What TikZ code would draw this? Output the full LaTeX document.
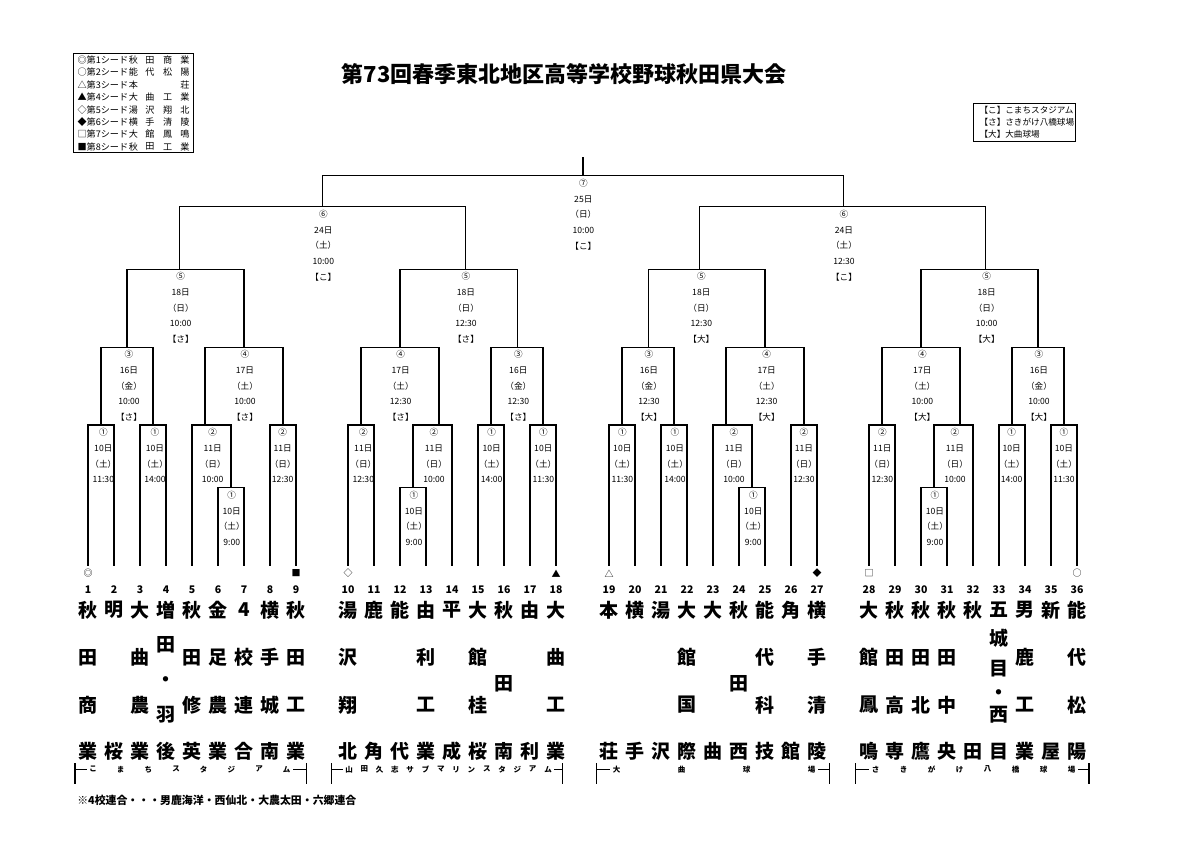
\documentclass[tikz,border=0pt]{standalone}
\usepackage{fontspec}
\newfontfamily\jp{Noto Sans CJK JP}
\newcommand\TmFour[6]{%
  \node[tm] (c#1a) at (#2,610) {#3};
  \node[tm] (c#1b) at (#2,657.7) {#4};
  \node[tm] (c#1c) at (#2,705) {#5};
  \node[tm] (c#1d) at (#2,751.7) {#6};}
\newcommand\TmTwo[4]{%
  \node[tm] (c#1a) at (#2,610) {#3};
  \node[tm] (c#1d) at (#2,751.7) {#4};}
\newcommand\TmThree[5]{%
  \node[tm] (c#1a) at (#2,610) {#3};
  \node[tm] (c#1b) at (#2,683.3) {#4};
  \node[tm] (c#1d) at (#2,751.7) {#5};}
\newcommand\LegRow[6]{%
  \node[leg,anchor=west] (lg#1) at (77,{60+12.4*(#1-1)}) {#2};
  \node[leg] (lg#1a) at (133.3,{60+12.4*(#1-1)}) {#3};
  \node[leg] (lg#1b) at (150,{60+12.4*(#1-1)}) {#4};
  \node[leg] (lg#1c) at (167.7,{60+12.4*(#1-1)}) {#5};
  \node[leg] (lg#1d) at (185,{60+12.4*(#1-1)}) {#6};}
\begin{document}
\begin{tikzpicture}[x=1pt,y=-1pt,line width=1.1pt,
  lab/.style={anchor=north,align=center,inner sep=0pt,font=\jp\fontsize{8.6}{15.7}\selectfont},
  tm/.style={inner sep=0pt,font=\jp\bfseries\fontsize{19}{19}\selectfont},
  num/.style={inner sep=0pt,font=\jp\bfseries\fontsize{10.5}{10.5}\selectfont},
  seed/.style={inner sep=0pt,font=\jp\fontsize{9}{9}\selectfont},
  leg/.style={inner sep=0pt,font=\jp\fontsize{9.1}{9.1}\selectfont},
  rleg/.style={inner sep=0pt,anchor=west,font=\jp\fontsize{8.6}{8.6}\selectfont},
  st/.style={inner sep=0pt,font=\jp\bfseries\fontsize{7.5}{7.5}\selectfont}]
\useasboundingbox[fill=white] (0,0) rectangle (1200,843);

% title
\node[inner sep=0pt,font=\jp\bfseries\fontsize{22}{22}\selectfont] (title) at (564,74) {第73回春季東北地区高等学校野球秋田県大会};

% seed legend
\draw[line width=0.8pt] (73,53) rectangle (193,152);
\LegRow{1}{◎第1シード}{秋}{田}{商}{業}
\LegRow{2}{○第2シード}{能}{代}{松}{陽}
\LegRow{3}{△第3シード}{本}{}{}{荘}
\LegRow{4}{▲第4シード}{大}{曲}{工}{業}
\LegRow{5}{◇第5シード}{湯}{沢}{翔}{北}
\LegRow{6}{◆第6シード}{横}{手}{清}{陵}
\LegRow{7}{□第7シード}{大}{館}{鳳}{鳴}
\LegRow{8}{■第8シード}{秋}{田}{工}{業}

% venue legend
\draw[line width=0.8pt] (973,103.3) rectangle (1075,141.7);
\node[rleg] (v1) at (979,110) {【こ】こまちスタジアム};
\node[rleg] (v2) at (979,122) {【さ】さきがけ八橋球場};
\node[rleg] (v3) at (979,134) {【大】大曲球場};

% team positions and numbers
\foreach \x [count=\i] in {88,114,140,166,192,218,244,270,296,348,374,400,426,452,478,504,530,556,609,635,661,687,713,739,765,791,817,869,895,921,947,973,999,1025,1051,1077}{
  \coordinate (t\i) at (\x,565.7);
  \node[num] (n\i) at (\x,590) {\i};
}

% match coordinates
\coordinate (m1) at (101,425);  \coordinate (m2) at (153,425);
\coordinate (p1) at (231,487.7); \coordinate (m3) at (205,425);
\coordinate (m4) at (283,425);
\coordinate (m5) at (361,425);  \coordinate (p2) at (413,487.7);
\coordinate (m6) at (439,425);  \coordinate (m7) at (491,425);
\coordinate (m8) at (543,425);
\coordinate (m9) at (622,425);  \coordinate (m10) at (674,425);
\coordinate (p3) at (752,487.7); \coordinate (m11) at (726,425);
\coordinate (m12) at (804,425);
\coordinate (m13) at (882,425); \coordinate (p4) at (934,487.7);
\coordinate (m14) at (960,425); \coordinate (m15) at (1012,425);
\coordinate (m16) at (1064,425);
\coordinate (r3a) at (127,347.3); \coordinate (r4a) at (244,347.3);
\coordinate (r4b) at (400,347.3); \coordinate (r3b) at (517.5,347.3);
\coordinate (r3c) at (648.5,347.3); \coordinate (r4c) at (765,347.3);
\coordinate (r4d) at (921,347.3); \coordinate (r3d) at (1038,347.3);
\coordinate (r5a) at (179.3,269.3); \coordinate (r5b) at (465.7,269.3);
\coordinate (r5c) at (699.7,269.3); \coordinate (r5d) at (985.7,269.3);
\coordinate (r6a) at (322.5,206.7); \coordinate (r6b) at (843.3,206.7);
\coordinate (r7) at (583,175.7);
\coordinate (top) at (583,157);

% bracket lines
\draw (t1) |- (m1) -| (t2);
\draw (t3) |- (m2) -| (t4);
\draw (t6) |- (p1) -| (t7);
\draw (t5) |- (m3) -| (p1);
\draw (t8) |- (m4) -| (t9);
\draw (t10) |- (m5) -| (t11);
\draw (t12) |- (p2) -| (t13);
\draw (p2) |- (m6) -| (t14);
\draw (t15) |- (m7) -| (t16);
\draw (t17) |- (m8) -| (t18);
\draw (t19) |- (m9) -| (t20);
\draw (t21) |- (m10) -| (t22);
\draw (t24) |- (p3) -| (t25);
\draw (t23) |- (m11) -| (p3);
\draw (t26) |- (m12) -| (t27);
\draw (t28) |- (m13) -| (t29);
\draw (t30) |- (p4) -| (t31);
\draw (p4) |- (m14) -| (t32);
\draw (t33) |- (m15) -| (t34);
\draw (t35) |- (m16) -| (t36);
\draw (m1) |- (r3a) -| (m2);
\draw (m3) |- (r4a) -| (m4);
\draw (m5) |- (r4b) -| (m6);
\draw (m7) |- (r3b) -| (m8);
\draw (m9) |- (r3c) -| (m10);
\draw (m11) |- (r4c) -| (m12);
\draw (m13) |- (r4d) -| (m14);
\draw (m15) |- (r3d) -| (m16);
\draw (r3a) |- (r5a) -| (r4a);
\draw (r4b) |- (r5b) -| (r3b);
\draw (r3c) |- (r5c) -| (r4c);
\draw (r4d) |- (r5d) -| (r3d);
\draw (r5a) |- (r6a) -| (r5b);
\draw (r5c) |- (r6b) -| (r5d);
\draw (r6a) |- (r7) -| (r6b);
\draw (r7) -- (top);

% match labels
\node[lab] (L7) at (583.3,178.5) {⑦\\25日\\（日）\\10:00\\【こ】};
\node[lab] (L6a) at (323.3,209.5) {⑥\\24日\\（土）\\10:00\\【こ】};
\node[lab] (L6b) at (844,209.5) {⑥\\24日\\（土）\\12:30\\【こ】};
\node[lab] (L5a) at (180.7,272) {⑤\\18日\\（日）\\10:00\\【さ】};
\node[lab] (L5b) at (466,272) {⑤\\18日\\（日）\\12:30\\【さ】};
\node[lab] (L5c) at (701.3,272) {⑤\\18日\\（日）\\12:30\\【大】};
\node[lab] (L5d) at (986.7,272) {⑤\\18日\\（日）\\10:00\\【大】};
\node[lab] (L3a) at (129,350) {③\\16日\\（金）\\10:00\\【さ】};
\node[lab] (L4a) at (245,350) {④\\17日\\（土）\\10:00\\【さ】};
\node[lab] (L4b) at (400.7,350) {④\\17日\\（土）\\12:30\\【さ】};
\node[lab] (L3b) at (518.3,350) {③\\16日\\（金）\\12:30\\【さ】};
\node[lab] (L3c) at (649,350) {③\\16日\\（金）\\12:30\\【大】};
\node[lab] (L4c) at (766.7,350) {④\\17日\\（土）\\12:30\\【大】};
\node[lab] (L4d) at (922.3,350) {④\\17日\\（土）\\10:00\\【大】};
\node[lab] (L3d) at (1039,350) {③\\16日\\（金）\\10:00\\【大】};
\node[lab] (Lm1) at (103.3,428) {①\\10日\\（土）\\11:30};
\node[lab] (Lm2) at (155,428) {①\\10日\\（土）\\14:00};
\node[lab] (Lm3) at (212.7,428) {②\\11日\\（日）\\10:00};
\node[lab] (Lp1) at (231.7,490.5) {①\\10日\\（土）\\9:00};
\node[lab] (Lm4) at (282.7,428) {②\\11日\\（日）\\12:30};
\node[lab] (Lm5) at (363.3,428) {②\\11日\\（日）\\12:30};
\node[lab] (Lm6) at (434,428) {②\\11日\\（日）\\10:00};
\node[lab] (Lp2) at (414,490.5) {①\\10日\\（土）\\9:00};
\node[lab] (Lm7) at (491.7,428) {①\\10日\\（土）\\14:00};
\node[lab] (Lm8) at (543.3,428) {①\\10日\\（土）\\11:30};
\node[lab] (Lm9) at (622.3,428) {①\\10日\\（土）\\11:30};
\node[lab] (Lm10) at (675,428) {①\\10日\\（土）\\14:00};
\node[lab] (Lm11) at (734,428) {②\\11日\\（日）\\10:00};
\node[lab] (Lp3) at (753.3,490.5) {①\\10日\\（土）\\9:00};
\node[lab] (Lm12) at (804,428) {②\\11日\\（日）\\12:30};
\node[lab] (Lm13) at (882.3,428) {②\\11日\\（日）\\12:30};
\node[lab] (Lm14) at (955,428) {②\\11日\\（日）\\10:00};
\node[lab] (Lp4) at (935,490.5) {①\\10日\\（土）\\9:00};
\node[lab] (Lm15) at (1011.7,428) {①\\10日\\（土）\\14:00};
\node[lab] (Lm16) at (1064,428) {①\\10日\\（土）\\11:30};

% seed marks
\node[seed] (s1) at (88,573.5) {◎};
\node[seed] (s9) at (296,573.5) {■};
\node[seed] (s10) at (348,573.5) {◇};
\node[seed] (s18) at (556,573.5) {▲};
\node[seed] (s19) at (609,573.5) {△};
\node[seed] (s27) at (817,573.5) {◆};
\node[seed] (s28) at (869,573.5) {□};
\node[seed] (s36) at (1077,573.5) {○};

% team names
\TmFour{1}{88}{秋}{田}{商}{業}
\TmTwo{2}{114}{明}{桜}
\TmFour{3}{140}{大}{曲}{農}{業}
\node[tm] (c4a) at (166,610) {増};
\node[tm] (c4b) at (166,645) {田};
\node[tm] (c4c) at (166,681.7) {・};
\node[tm] (c4d) at (166,715) {羽};
\node[tm] (c4e) at (166,751.7) {後};
\TmFour{5}{192}{秋}{田}{修}{英}
\TmFour{6}{218}{金}{足}{農}{業}
\TmFour{7}{244}{4}{校}{連}{合}
\TmFour{8}{270}{横}{手}{城}{南}
\TmFour{9}{296}{秋}{田}{工}{業}
\TmFour{10}{348}{湯}{沢}{翔}{北}
\TmTwo{11}{374}{鹿}{角}
\TmTwo{12}{400}{能}{代}
\TmFour{13}{426}{由}{利}{工}{業}
\TmTwo{14}{452}{平}{成}
\TmFour{15}{478}{大}{館}{桂}{桜}
\TmThree{16}{504}{秋}{田}{南}
\TmTwo{17}{530}{由}{利}
\TmFour{18}{556}{大}{曲}{工}{業}
\TmTwo{19}{609}{本}{荘}
\TmTwo{20}{635}{横}{手}
\TmTwo{21}{661}{湯}{沢}
\TmFour{22}{687}{大}{館}{国}{際}
\TmTwo{23}{713}{大}{曲}
\TmThree{24}{739}{秋}{田}{西}
\TmFour{25}{765}{能}{代}{科}{技}
\TmTwo{26}{791}{角}{館}
\TmFour{27}{817}{横}{手}{清}{陵}
\TmFour{28}{869}{大}{館}{鳳}{鳴}
\TmFour{29}{895}{秋}{田}{高}{専}
\TmFour{30}{921}{秋}{田}{北}{鷹}
\TmFour{31}{947}{秋}{田}{中}{央}
\TmTwo{32}{973}{秋}{田}
\node[tm] (c33a) at (999,610) {五};
\node[tm] (c33b) at (999,638.3) {城};
\node[tm] (c33c) at (999,668.3) {目};
\node[tm] (c33d) at (999,695) {・};
\node[tm] (c33e) at (999,715) {西};
\node[tm] (c33f) at (999,751.7) {目};
\TmFour{34}{1025}{男}{鹿}{工}{業}
\TmTwo{35}{1051}{新}{屋}
\TmFour{36}{1077}{能}{代}{松}{陽}

% stadium bars
\draw (75,763) -- (75,784) (75,769.3) -- (87,769.3) (293,769.3) -- (306.7,769.3) (306.7,763) -- (306.7,784);
\foreach \c [count=\k from 0] in {こ,ま,ち,ス,タ,ジ,ア,ム}
  \node[st] (sa\k) at ({93+27.67*\k},769.3) {\c};
\draw (331.7,763) -- (331.7,784) (331.7,769.3) -- (343,769.3) (554,769.3) -- (562.3,769.3) (562.3,763) -- (562.3,784);
\foreach \c [count=\k from 0] in {山,田,久,志,サ,ブ,マ,リ,ン,ス,タ,ジ,ア,ム}
  \node[st] (sb\k) at ({349+15.31*\k},769.3) {\c};
\draw (596.7,763) -- (596.7,784) (596.7,769.3) -- (610,769.3) (818,769.3) -- (829.3,769.3) (829.3,763) -- (829.3,784);
\foreach \c [count=\k from 0] in {大,曲,球,場}
  \node[st] (sc\k) at ({616.7+65*\k},769.3) {\c};
\draw (855.7,763) -- (855.7,784) (855.7,769.3) -- (869,769.3) (1078,769.3) -- (1089,769.3) (1089,763) -- (1089,784);
\foreach \c [count=\k from 0] in {さ,き,が,け,八,橋,球,場}
  \node[st] (sd\k) at ({875.7+28*\k},769.3) {\c};

% footnote
\node[inner sep=0pt,anchor=west,font=\jp\bfseries\fontsize{10.9}{10.9}\selectfont] (foot) at (76.7,800) {※4校連合・・・男鹿海洋・西仙北・大農太田・六郷連合};
\end{tikzpicture}
\end{document}
